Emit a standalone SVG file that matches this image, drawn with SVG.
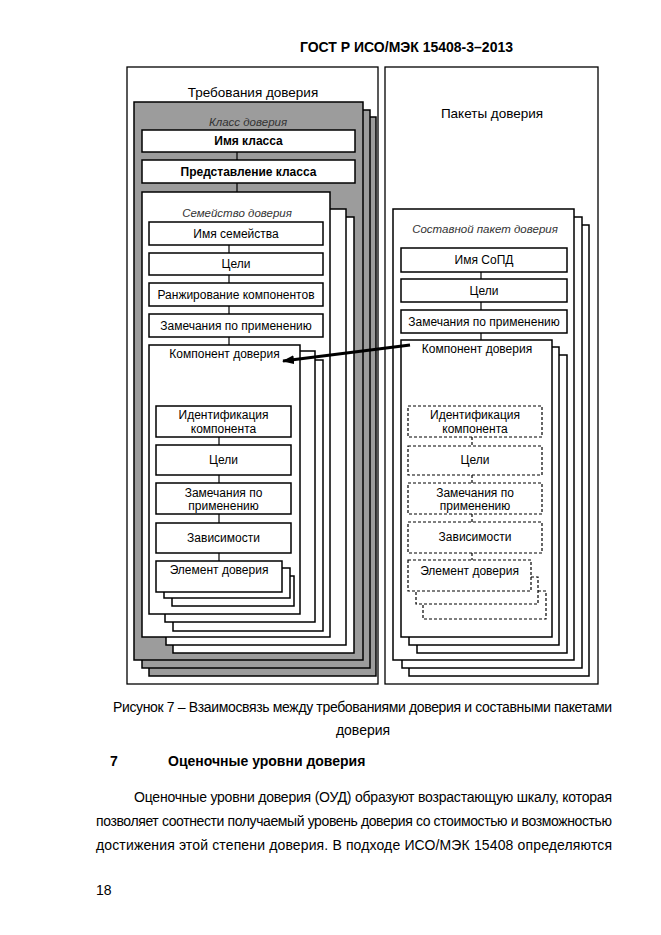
<svg xmlns="http://www.w3.org/2000/svg" width="661" height="935" viewBox="0 0 661 935">
<defs>
<style>
.bg{fill:#fff}
.panel{fill:#fff;stroke:#000;stroke-width:1.3}
.box{fill:#fff;stroke:#000;stroke-width:1.5}
.gray{fill:#9c9c9c;stroke:#000;stroke-width:1.5}
.dash{fill:#fff;stroke:#000;stroke-width:1.2;stroke-dasharray:3 2}
.t{font-family:"Liberation Sans",Arial,sans-serif;font-size:12px;text-anchor:middle;fill:#000}
.ttl{font-family:"Liberation Sans",Arial,sans-serif;font-size:13.5px;text-anchor:middle;fill:#000}
.it{font-style:italic;font-size:11.5px;fill:#333}
.b{font-weight:bold}
.conn{stroke:#000;stroke-width:1.2;fill:none}
.dconn{stroke:#000;stroke-width:1.2;fill:none;stroke-dasharray:3 2}
.page{font-family:"Liberation Sans",Arial,sans-serif;font-size:14px;fill:#000}
</style>
<marker id="ah" viewBox="0 0 12 9" refX="11" refY="4.5" markerWidth="12" markerHeight="9" markerUnits="userSpaceOnUse" orient="auto">
<path d="M0,0 L12,4.5 L0,9 z" fill="#000"/>
</marker>
</defs>
<rect class="bg" x="0" y="0" width="661" height="935"/>

<text class="page b" x="513" y="51.5" text-anchor="end" font-size="13.5">ГОСТ Р ИСО/МЭК 15408-3–2013</text>

<g id="panel-requirements">
<rect class="panel" x="127" y="67" width="251" height="617"/>
<text class="ttl" x="253" y="97">Требования доверия</text>
</g>

<g id="panel-packages">
<rect class="panel" x="385" y="67" width="213" height="617"/>
<text class="ttl" x="492" y="118">Пакеты доверия</text>
</g>

<g id="class-stack">
<rect class="gray" x="149" y="117" width="227" height="559"/>
<rect class="gray" x="142" y="110" width="228" height="558"/>
<rect class="gray" x="134" y="102" width="229" height="558"/>
<text class="t it" x="248" y="126">Класс доверия</text>
</g>
<g id="class-name">
<rect class="box" x="142" y="130" width="213" height="22"/>
<text class="t b" x="248.5" y="145">Имя класса</text>
</g>
<g id="class-intro">
<rect class="box" x="142" y="160" width="213" height="23"/>
<text class="t b" x="248.5" y="175.5">Представление класса</text>
</g>

<g id="family-stack">
<rect class="box" x="173" y="217" width="181" height="436"/>
<rect class="box" x="166" y="209" width="180" height="436"/>
<rect class="box" x="142" y="192" width="188" height="445"/>
<text class="t it" x="237" y="217">Семейство доверия</text>
</g>
<g id="family-name">
<rect class="box" x="149" y="222" width="174" height="23"/>
<text class="t" x="236" y="237.5">Имя семейства</text>
</g>
<g id="family-objectives">
<rect class="box" x="149" y="253" width="174" height="22"/>
<text class="t" x="236" y="268">Цели</text>
</g>
<g id="family-leveling">
<rect class="box" x="149" y="283" width="174" height="23"/>
<text class="t" x="236" y="298.5">Ранжирование компонентов</text>
</g>
<g id="family-notes">
<rect class="box" x="149" y="314" width="174" height="23"/>
<text class="t" x="236" y="329.5">Замечания по применению</text>
</g>

<g id="component-stack-left">
<rect class="box" x="173" y="360" width="150" height="271"/>
<rect class="box" x="165" y="351" width="150" height="271"/>
<rect class="box" x="149" y="345" width="151" height="269"/>
<text class="t" x="224.5" y="358">Компонент доверия</text>
</g>
<g id="comp-id-left">
<rect class="box" x="156" y="406" width="135" height="31"/>
<text class="t" x="223.5" y="419">Идентификация</text>
<text class="t" x="223.5" y="433">компонента</text>
</g>
<g id="comp-obj-left">
<rect class="box" x="156" y="445" width="135" height="30"/>
<text class="t" x="223.5" y="464">Цели</text>
</g>
<g id="comp-notes-left">
<rect class="box" x="156" y="483" width="135" height="31"/>
<text class="t" x="223.5" y="497">Замечания по</text>
<text class="t" x="223.5" y="510">применению</text>
</g>
<g id="comp-dep-left">
<rect class="box" x="156" y="523" width="135" height="30"/>
<text class="t" x="223.5" y="542">Зависимости</text>
</g>
<g id="element-stack-left">
<rect class="box" x="172" y="576" width="122" height="30"/>
<rect class="box" x="164" y="568" width="126" height="30"/>
<rect class="box" x="156" y="561" width="126" height="31"/>
<text class="t" x="219" y="574">Элемент доверия</text>
</g>

<g id="package-stack">
<rect class="box" x="409" y="225" width="180" height="451"/>
<rect class="box" x="402" y="217" width="180" height="451"/>
<rect class="box" x="393" y="209" width="181" height="451"/>
<text class="t it" x="485" y="233">Составной пакет доверия</text>
</g>
<g id="package-name">
<rect class="box" x="401" y="248" width="166" height="24"/>
<text class="t" x="484" y="264">Имя СоПД</text>
</g>
<g id="package-objectives">
<rect class="box" x="401" y="279" width="166" height="23"/>
<text class="t" x="484" y="294.5">Цели</text>
</g>
<g id="package-notes">
<rect class="box" x="401" y="310" width="166" height="23"/>
<text class="t" x="484" y="325.5">Замечания по применению</text>
</g>

<g id="component-stack-right">
<rect class="box" x="417" y="355" width="150" height="298"/>
<rect class="box" x="409" y="347" width="150" height="298"/>
<rect class="box" x="401" y="340" width="151" height="297"/>
<text class="t" x="477" y="353">Компонент доверия</text>
</g>
<g id="comp-id-right">
<rect class="dash" x="408" y="406" width="134" height="31"/>
<text class="t" x="475" y="418.5">Идентификация</text>
<text class="t" x="475" y="433">компонента</text>
</g>
<g id="comp-obj-right">
<rect class="dash" x="408" y="446" width="134" height="29"/>
<text class="t" x="475" y="464">Цели</text>
</g>
<g id="comp-notes-right">
<rect class="dash" x="408" y="483" width="134" height="31"/>
<text class="t" x="475" y="497">Замечания по</text>
<text class="t" x="475" y="510">применению</text>
</g>
<g id="comp-dep-right">
<rect class="dash" x="408" y="522" width="134" height="31"/>
<text class="t" x="475" y="541">Зависимости</text>
</g>
<g id="element-stack-right">
<rect class="dash" x="423" y="591" width="123" height="28"/>
<rect class="dash" x="416" y="577" width="122" height="27"/>
<rect class="dash" x="408" y="560" width="123" height="31"/>
<text class="t" x="469.5" y="575">Элемент доверия</text>
</g>

<g id="connectors">
<line class="conn" x1="237" y1="152" x2="237" y2="160"/>
<line class="conn" x1="237" y1="183" x2="237" y2="192"/>
<line class="conn" x1="229" y1="245" x2="229" y2="253"/>
<line class="conn" x1="229" y1="275" x2="229" y2="283"/>
<line class="conn" x1="229" y1="306" x2="229" y2="314"/>
<line class="conn" x1="229" y1="337" x2="229" y2="345"/>
<line class="conn" x1="219" y1="437" x2="219" y2="445"/>
<line class="conn" x1="219" y1="475" x2="219" y2="483"/>
<line class="conn" x1="219" y1="514" x2="219" y2="523"/>
<line class="conn" x1="219" y1="553" x2="219" y2="561"/>
<line class="conn" x1="481" y1="272" x2="481" y2="279"/>
<line class="conn" x1="481" y1="302" x2="481" y2="310"/>
<line class="conn" x1="481" y1="333" x2="481" y2="340"/>
<line class="dconn" x1="472" y1="437" x2="472" y2="446"/>
<line class="dconn" x1="472" y1="475" x2="472" y2="483"/>
<line class="dconn" x1="472" y1="514" x2="472" y2="522"/>
<line class="dconn" x1="472" y1="553" x2="472" y2="560"/>
<line x1="410" y1="345" x2="283" y2="361" stroke="#000" stroke-width="3" marker-end="url(#ah)"/>
</g>

<text class="page" x="113" y="712" textLength="499" lengthAdjust="spacing">Рисунок 7 – Взаимосвязь между требованиями доверия и составными пакетами</text>
<text class="page" x="363" y="735" text-anchor="middle">доверия</text>

<text class="page b" x="110" y="766" font-size="15">7</text>
<text class="page b" x="168" y="766" font-size="15">Оценочные уровни доверия</text>

<text class="page" x="134" y="802" textLength="478" lengthAdjust="spacing">Оценочные уровни доверия (ОУД) образуют возрастающую шкалу, которая</text>
<text class="page" x="96" y="826" textLength="516" lengthAdjust="spacing">позволяет соотнести получаемый уровень доверия со стоимостью и возможностью</text>
<text class="page" x="96" y="850" textLength="516" lengthAdjust="spacing">достижения этой степени доверия. В подходе ИСО/МЭК 15408 определяются</text>

<text class="page" x="96" y="895">18</text>
</svg>
